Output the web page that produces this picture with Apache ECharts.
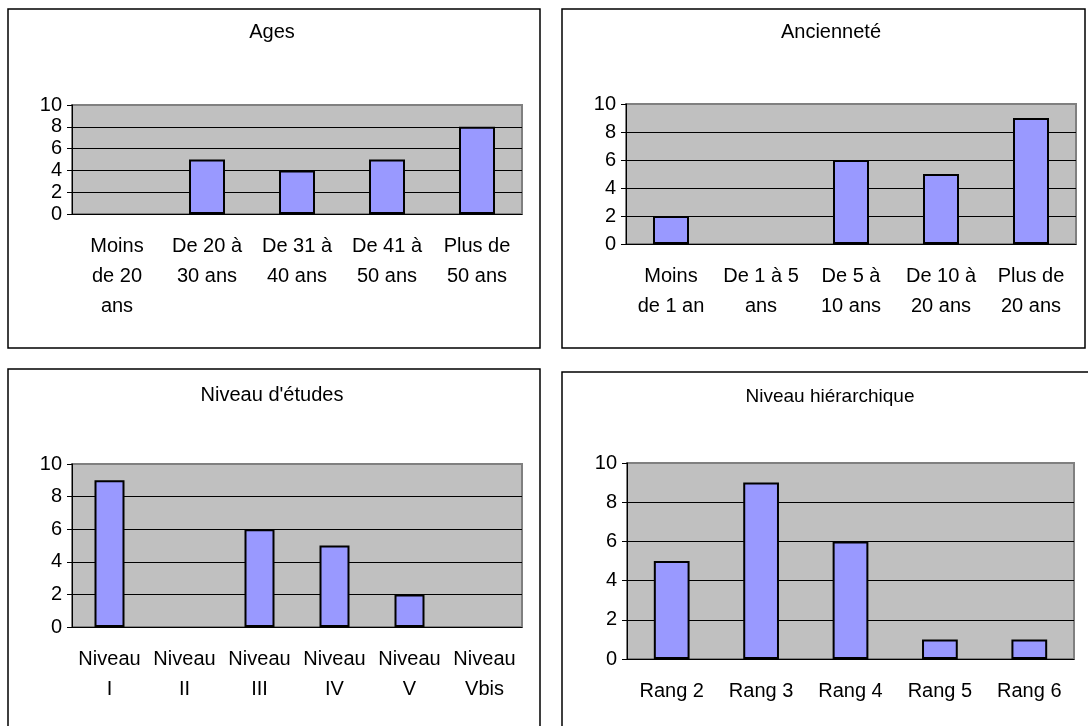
<!DOCTYPE html>
<html>
<head>
<meta charset="utf-8">
<script src="https://cdn.jsdelivr.net/npm/echarts@6/dist/echarts.min.js"></script>
<style>
  html, body { margin: 0; padding: 0; background: #fff; }
  #chart { width: 1088px; height: 726px; }
</style>
</head>
<body>
<div id="chart"></div>
<script>
var agesCats = ['Moins\nde 20\nans', 'De 20 à\n30 ans', 'De 31 à\n40 ans', 'De 41 à\n50 ans', 'Plus de\n50 ans'];
var agesVals = [0, 5, 4, 5, 8];

var ancCats = ['Moins\nde 1 an', 'De 1 à 5\nans', 'De 5 à\n10 ans', 'De 10 à\n20 ans', 'Plus de\n20 ans'];
var ancVals = [2, 0, 6, 5, 9];

var etudesCats = ['Niveau\nI', 'Niveau\nII', 'Niveau\nIII', 'Niveau\nIV', 'Niveau\nV', 'Niveau\nVbis'];
var etudesVals = [9, 0, 6, 5, 2, 0];

var hierCats = ['Rang 2', 'Rang 3', 'Rang 4', 'Rang 5', 'Rang 6'];
var hierVals = [5, 9, 6, 1, 1];

var titles = ['Ages', 'Ancienneté', "Niveau d'études", 'Niveau hiérarchique'];
var yTicks = [0, 10, 2]; // min, max, interval

var font = 'Liberation Sans, Arial, sans-serif';

var myChart = echarts.init(document.getElementById('chart'));

var grids = [
    {left: 72, top: 105, width: 450, height: 109},
    {left: 626, top: 104, width: 450, height: 140},
    {left: 72, top: 464, width: 450, height: 163},
    {left: 627, top: 463, width: 447, height: 196}
];
grids.forEach(function (g) {
    g.show = true;
    g.backgroundColor = '#c0c0c0';
    g.borderColor = '#808080';
    g.borderWidth = 2;
});

var titlePos = [
    {x: 272, y: 22, size: 20},
    {x: 831, y: 22, size: 20},
    {x: 272, y: 385, size: 20},
    {x: 830, y: 387, size: 19}
];

var catsList = [agesCats, ancCats, etudesCats, hierCats];
var valsList = [agesVals, ancVals, etudesVals, hierVals];

var xAxes = [], yAxes = [], series = [], titleArr = [];
for (var i = 0; i < 4; i++) {
    titleArr.push({
        text: titles[i],
        left: titlePos[i].x,
        top: titlePos[i].y,
        textAlign: 'center',
        padding: 0,
        textStyle: {fontFamily: font, fontSize: titlePos[i].size, fontWeight: 'normal', color: '#000'}
    });
    xAxes.push({
        type: 'category',
        gridIndex: i,
        data: catsList[i],
        axisLine: {lineStyle: {color: '#000', width: 1}},
        axisTick: {length: 5, lineStyle: {color: '#000'}},
        axisLabel: {
            interval: 0,
            margin: 17,
            color: '#000',
            fontFamily: font,
            fontSize: 20,
            lineHeight: 30
        }
    });
    yAxes.push({
        type: 'value',
        gridIndex: i,
        min: yTicks[0],
        max: yTicks[1],
        interval: yTicks[2],
        axisLine: {show: true, lineStyle: {color: '#000', width: 1}},
        axisTick: {show: true, length: 5, lineStyle: {color: '#000'}},
        axisLabel: {margin: 10, color: '#000', fontFamily: font, fontSize: 20},
        splitLine: {show: true, showMaxLine: false, lineStyle: {color: '#000', width: 1}}
    });
    // empty categories get no outline, like in the original
    var barData = valsList[i].map(function (v) {
        return v === 0 ? {value: v, itemStyle: {borderWidth: 0}} : v;
    });
    series.push({
        type: 'bar',
        xAxisIndex: i,
        yAxisIndex: i,
        data: barData,
        barWidth: '40%',
        itemStyle: {color: '#9999ff', borderColor: '#000', borderWidth: 2}
    });
}

var option = {
    animation: false,
    backgroundColor: '#fff',
    title: titleArr,
    grid: grids,
    xAxis: xAxes,
    yAxis: yAxes,
    series: series,
    graphic: [
        {type: 'rect', shape: {x: 8, y: 9, width: 532, height: 339}, style: {fill: 'none', stroke: '#000', lineWidth: 1.5}, z: -1},
        {type: 'rect', shape: {x: 562, y: 9, width: 523, height: 339}, style: {fill: 'none', stroke: '#000', lineWidth: 1.5}, z: -1},
        {type: 'rect', shape: {x: 8, y: 369, width: 532, height: 370}, style: {fill: 'none', stroke: '#000', lineWidth: 1.5}, z: -1},
        {type: 'rect', shape: {x: 562, y: 372, width: 530, height: 370}, style: {fill: 'none', stroke: '#000', lineWidth: 1.5}, z: -1}
    ]
};
myChart.setOption(option);
</script>
</body>
</html>
